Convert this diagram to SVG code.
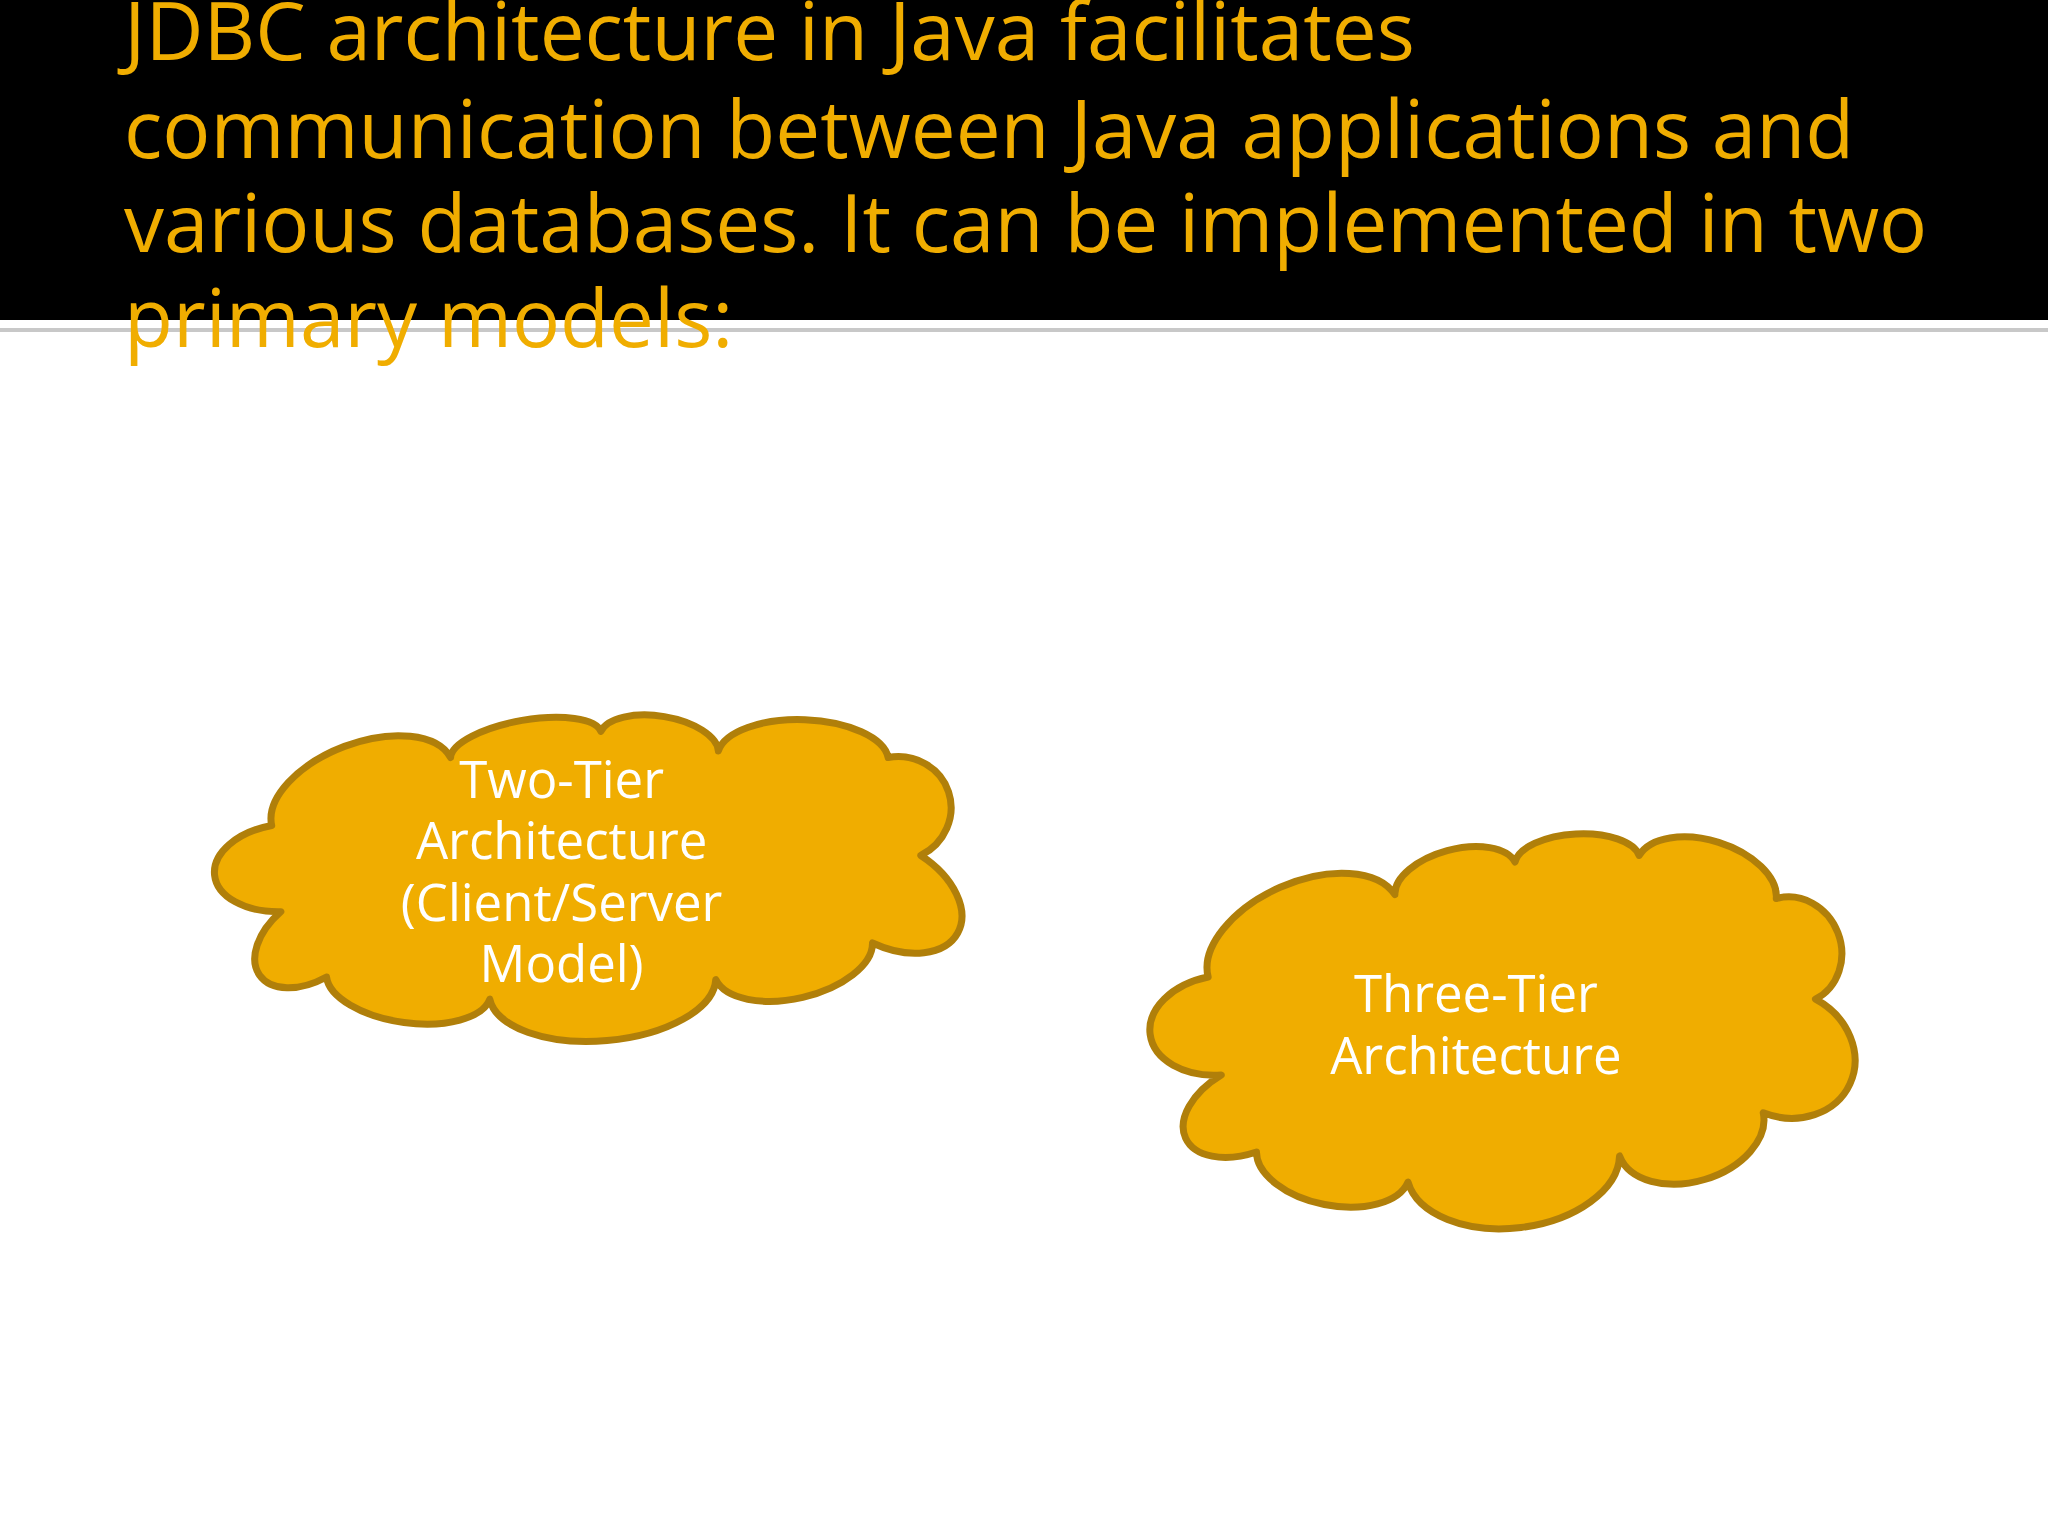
<svg xmlns="http://www.w3.org/2000/svg" width="2048" height="1536" viewBox="0 0 2048 1536">
<style>
.title{font-family:"Open Sans","Noto Sans",sans-serif;font-size:80px;fill:#F0AD00}
.cloud{fill:#F0AD00;stroke:#B07F0A;stroke-width:7;vector-effect:non-scaling-stroke;stroke-linejoin:round}
.lbl{font-family:"Open Sans","Noto Sans",sans-serif;font-size:39px;fill:#FFFFFF;text-anchor:middle}
</style>
<rect x="0" y="0" width="2048" height="1536" fill="#FFFFFF"/>
<rect x="0" y="0" width="2048" height="320" fill="#000000"/>
<rect x="0" y="328" width="2048" height="4" fill="#C8C8C8"/>
<g id="title">
<text class="title" x="124" y="60">JDBC architecture in Java facilitates</text>
<text class="title" x="124" y="158">communication between Java applications and</text>
<text class="title" x="124" y="252">various databases. It can be implemented in two</text>
<text class="title" x="124" y="347">primary models:</text>
</g>
<g transform="scale(1.3061)">
<g id="two-tier">
<path class="cloud" d="M215,698 A33.5,55 -96 0 1 208,632 A73.5,40 -21 0 1 345,580 A58.5,20 -10 0 1 460,560 A46,22 9 0 1 550,575 A65.5,30 2 0 1 680,580 A40,42 71.6 0 1 705,655 A38.5,60 119 0 1 668,722 A62,32 167 0 1 548,750 A87,42 175 0 1 375,765 A63.5,30 188 0 1 250,748 A31,50 235 0 1 215,698 Z"/>
<text class="lbl" x="430" y="611">Two-Tier</text>
<text class="lbl" x="430" y="658">Architecture</text>
<text class="lbl" x="430" y="705">(Client/Server</text>
<text class="lbl" x="430" y="752">Model)</text>
</g>
<g id="three-tier">
<path class="cloud" d="M935,823 A38,55 -97.6 0 1 925,748 A78.5,45 -23.8 0 1 1068,685 A48,25 -15 0 1 1160,660 A48,22 -3 0 1 1255,655 A55.5,32 17.4 0 1 1360,688 A41.5,38 68.7 0 1 1390,765 A48,55 114.7 0 1 1350,852 A57.5,38 163 0 1 1240,885 A82,50 173 0 1 1078,905 A59.5,33 191 0 1 962,882 A33,55 245 0 1 935,823 Z"/>
<text class="lbl" x="1130" y="775">Three-Tier</text>
<text class="lbl" x="1130" y="822">Architecture</text>
</g>
</g>
<g id="connectors"/>
</svg>
